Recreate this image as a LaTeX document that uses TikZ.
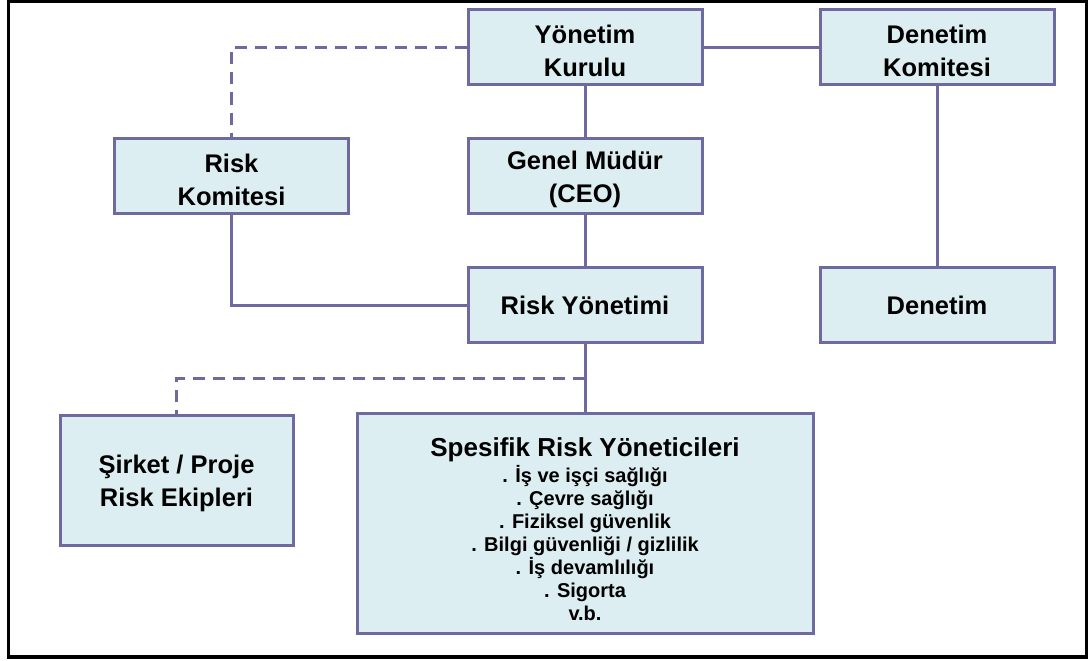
\documentclass[tikz,border=0pt]{standalone}
\usepackage{fontspec}
\setmainfont{Liberation Sans}
% taller first line, so two-line labels sit a little lower in their boxes
\newcommand{\firstlinestrut}{\rule{0pt}{25.5pt}}
\begin{document}
\definecolor{boxfill}{HTML}{DCEEF1}
\definecolor{boxline}{HTML}{6E6A9F}
\begin{tikzpicture}[x=1pt,y=-1pt,
  orgbox/.style={draw=boxline,fill=boxfill,line width=3pt,rectangle,
    minimum width=234pt,minimum height=75pt,inner sep=0pt,align=center,
    font=\bfseries\fontsize{25.5}{33}\selectfont},
  conn/.style={draw=boxline,line width=3pt},
  dashconn/.style={conn,dash pattern=on 12pt off 8pt}]
  \useasboundingbox (0,0) rectangle (1090,661);
  \fill[white] (0,0) rectangle (1090,661);
  % outer frame
  \draw[line width=3.5pt,black] (8.5,1.7) rectangle (1086.3,657.2);

  % boxes
  \node[orgbox] (yk) at (585,47.5) {\firstlinestrut Yönetim\\Kurulu};
  \node[orgbox] (dk) at (937,47.5) {\firstlinestrut Denetim\\Komitesi};
  \node[orgbox] (rk) at (231.5,176) {\firstlinestrut Risk\\Komitesi};
  \node[orgbox] (gm) at (585,176) {\firstlinestrut Genel Müdür\\(CEO)};
  \node[orgbox] (ry) at (585,305) {Risk Yönetimi};
  \node[orgbox] (de) at (937,305) {Denetim};
  \node[orgbox,minimum width=233pt,minimum height=130pt] (sp) at (176.5,480)
    {\firstlinestrut Şirket / Proje\\Risk Ekipleri};
  \node[orgbox,minimum width=456pt,minimum height=220pt,
    font=\bfseries\fontsize{20}{23}\selectfont] (srm) at (585,523.5)
    {{\fontsize{26}{30}\selectfont\rule{0pt}{31pt}Spesifik Risk Yöneticileri}\\[3pt]
     . İş ve işçi sağlığı\\
     . Çevre sağlığı\\
     . Fiziksel güvenlik\\
     . Bilgi güvenliği / gizlilik\\
     . İş devamlılığı\\
     . Sigorta\\
     v.b.};

  % solid connectors
  \draw[conn] (yk.east) -- (dk.west);
  \draw[conn] (yk.south) -- (gm.north);
  \draw[conn] (gm.south) -- (ry.north);
  \draw[conn] (rk.south) |- (ry.west);
  \draw[conn] (dk.south) -- (de.north);
  \draw[conn] (ry.south) -- (srm.north);

  % dotted-line reporting
  \draw[dashconn] (yk.west) -| (rk.north);
  \coordinate (branch) at (585,378.5);
  \draw[dashconn] (branch) -| (sp.north);
\end{tikzpicture}
\end{document}
